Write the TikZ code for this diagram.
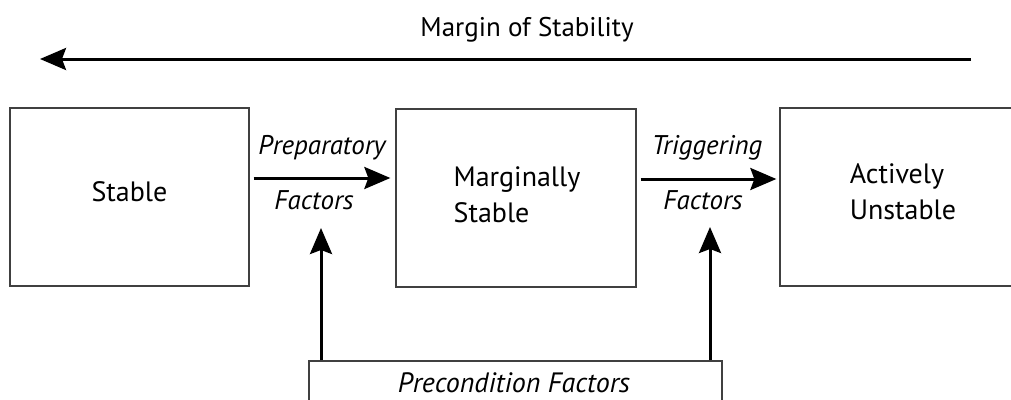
\documentclass[tikz,border=0pt]{standalone}
\usepackage{fontspec}
\setmainfont{PT Sans}
\usetikzlibrary{arrows.meta,calc}
\begin{document}
\begin{tikzpicture}[x=1pt,y=-1pt,
  box/.style={draw=black!75,line width=1.3pt,rectangle,inner sep=0pt,align=left},
  boxtext/.style={font=\fontsize{28}{36}\selectfont},
  lab/.style={font=\fontsize{27}{31}\selectfont\itshape,inner sep=0pt},
  arr/.style={line width=3pt,-{Stealth[length=26pt,width=22pt,inset=4pt]}}]
\useasboundingbox (0,0) rectangle (1011,399);
\clip (0,0) rectangle (1011,399);
\node[font=\fontsize{27}{31}\selectfont,inner sep=0pt] (title) at (527,30) {Margin of Stability};
\coordinate (ms1) at (971,59);
\coordinate (ms2) at (40,59);
\draw[arr] (ms1) -- (ms2);
\node[box,minimum width=239pt,minimum height=178pt] (stable) at (129.5,197) {};
\node[boxtext] (stablet) at (129.5,192) {Stable};
\node[box,minimum width=240pt,minimum height=178pt] (marg) at (516,198) {};
\node[boxtext,align=left] (margt) at (517,195) {Marginally\\Stable};
\node[box,minimum width=248pt,minimum height=178pt] (act) at (904,197) {};
\node[boxtext,align=left] (actt) at (903,192) {Actively\\Unstable};
\node[box,minimum width=413pt,minimum height=44pt] (prec) at (515.5,383) {};
\node[lab,font=\fontsize{28}{32}\selectfont\itshape] (prect) at (514,383) {Precondition Factors};
\node[lab] (prep) at (322,148) {Preparatory};
\node[lab] (pfac) at (314,200) {Factors};
\node[lab] (trig) at (707,148) {Triggering};
\node[lab] (tfac) at (703,200) {Factors};
\draw[arr] ([xshift=4pt,yshift=19pt]stable.east) -- ([xshift=-5pt,yshift=20pt]marg.west);
\draw[arr] ([xshift=4pt,yshift=19pt]marg.east) -- ([xshift=-3pt,yshift=18pt]act.west);
\coordinate (t1) at (321,228);
\coordinate (t2) at (710,227);
\draw[arr] (prec.north -| t1) -- (t1);
\draw[arr] (prec.north -| t2) -- (t2);
\end{tikzpicture}
\end{document}
